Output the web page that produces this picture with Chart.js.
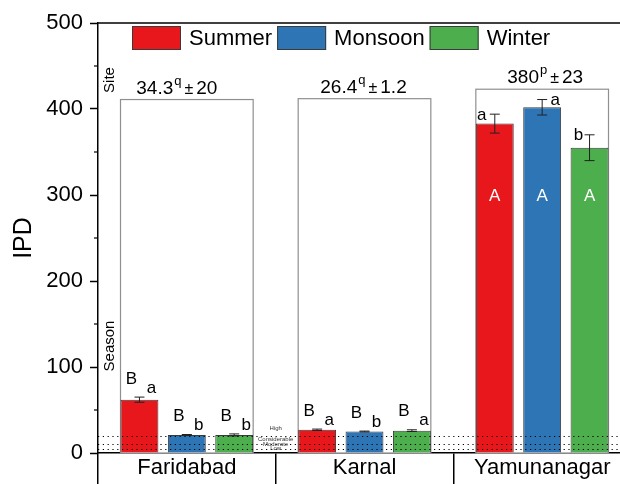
<!DOCTYPE html>
<html>
<head>
<meta charset="utf-8">
<title>IPD by site and season</title>
<script src="https://cdn.jsdelivr.net/npm/chart.js@4.4.1/dist/chart.umd.min.js"></script>
<style>
  html, body { margin: 0; padding: 0; overflow: hidden; background: #fff; }
  #wrap { width: 640px; height: 484px; }
</style>
</head>
<body>
<div id="wrap"><canvas id="ipdChart" width="640" height="484"></canvas></div>
<script>
const sites = ["Faridabad", "Karnal", "Yamunanagar"];
const seasons = ["Summer", "Monsoon", "Winter"];

const summer = [62, 27, 383];
const monsoon = [21, 25, 402];
const winter = [21, 26, 355];

const summerErr = [3, 0.8, 11];
const monsoonErr = [0.5, 0.5, 9];
const winterErr = [1.2, 1, 15];

// letters: upper = between sites, lower = between seasons
const summerUpper = ["B", "B", "A"];
const monsoonUpper = ["B", "B", "A"];
const winterUpper = ["B", "B", "A"];
const summerLower = ["a", "a", "a"];
const monsoonLower = ["b", "b", "a"];
const winterLower = ["b", "a", "b"];

// site summary boxes
const siteBoxTop = [411, 412, 423];
const siteMean = ["34.3", "26.4", "380"];
const siteGroup = ["q", "q", "p"];
const siteSd = ["20", "1.2", "23"];

const thresholds = [5, 10, 20];
const thresholdLabels = ["Low", "Moderate", "Considerable", "High"];

const yTicks = [0, 100, 200, 300, 400, 500];

const FONT = "'Liberation Sans', Arial, Helvetica, sans-serif";
const colors = ["#e8171c", "#2e75b6", "#4cae4c"];

const seriesValues = [summer, monsoon, winter];
const seriesErr = [summerErr, monsoonErr, winterErr];
const seriesUpper = [summerUpper, monsoonUpper, winterUpper];
const seriesLower = [summerLower, monsoonLower, winterLower];

function drawMean(ctx, cx, baseY, mean, sup, sd) {
  ctx.textAlign = "left";
  ctx.textBaseline = "alphabetic";
  ctx.font = `19px ${FONT}`;
  const w1 = ctx.measureText(mean).width;
  const w4 = ctx.measureText(sd).width;
  ctx.font = `13px ${FONT}`;
  const w2 = ctx.measureText(sup).width;
  ctx.font = `16px ${FONT}`;
  const w3 = ctx.measureText("\u00b1").width;
  let x = cx - (w1 + 1 + w2 + 3 + w3 + 3 + w4) / 2;
  ctx.font = `19px ${FONT}`;
  ctx.fillText(mean, x, baseY);
  x += w1 + 1;
  ctx.font = `13px ${FONT}`;
  ctx.fillText(sup, x, baseY - 9);
  x += w2 + 3;
  ctx.font = `16px ${FONT}`;
  ctx.fillText("\u00b1", x, baseY);
  x += w3 + 3;
  ctx.font = `19px ${FONT}`;
  ctx.fillText(sd, x, baseY);
}

const extras = {
  id: "extras",
  beforeDatasetsDraw(chart) {
    const { ctx, scales: { y } } = chart;
    const first = chart.getDatasetMeta(0).data;
    const last = chart.getDatasetMeta(2).data;
    ctx.save();
    sites.forEach((s, i) => {
      const l = first[i].x - first[i].width / 2;
      const r = last[i].x + last[i].width / 2;
      const t = y.getPixelForValue(siteBoxTop[i]);
      const b = y.getPixelForValue(0);
      ctx.fillStyle = "#fff";
      ctx.fillRect(l, t, r - l, b - t);
      ctx.strokeStyle = "#8f8f8f";
      ctx.lineWidth = 1.2;
      ctx.strokeRect(l, t, r - l, b - t);
    });
    ctx.restore();
  },
  afterDatasetsDraw(chart) {
    const { ctx, chartArea, scales: { y } } = chart;
    const first = chart.getDatasetMeta(0).data;
    const last = chart.getDatasetMeta(2).data;
    ctx.save();

    // error bars
    ctx.strokeStyle = "#222";
    ctx.lineWidth = 1;
    seriesValues.forEach((vals, k) => {
      const meta = chart.getDatasetMeta(k);
      vals.forEach((v, i) => {
        const e = seriesErr[k][i];
        const x = meta.data[i].x;
        const y1 = y.getPixelForValue(v + e);
        const y2 = y.getPixelForValue(v - e);
        ctx.beginPath();
        ctx.moveTo(x, y1); ctx.lineTo(x, y2);
        ctx.moveTo(x - 5, y1); ctx.lineTo(x + 5, y1);
        ctx.moveTo(x - 5, y2); ctx.lineTo(x + 5, y2);
        ctx.stroke();
      });
    });

    // risk threshold lines
    ctx.setLineDash([1.2, 3.6]);
    ctx.strokeStyle = "#000";
    ctx.lineWidth = 1.2;
    thresholds.forEach((t) => {
      const py = Math.round(y.getPixelForValue(t)) + 0.5;
      ctx.beginPath();
      ctx.moveTo(chartArea.left, py);
      ctx.lineTo(chartArea.right, py);
      ctx.stroke();
    });
    ctx.setLineDash([]);

    // threshold labels between first two sites
    const gapX = (last[0].x + last[0].width / 2 + first[1].x - first[1].width / 2) / 2;
    ctx.fillStyle = "#333";
    ctx.font = `6px ${FONT}`;
    ctx.textAlign = "center";
    ctx.textBaseline = "middle";
    const labelY = [
      y.getPixelForValue(thresholds[0]) - 0.5,
      y.getPixelForValue(thresholds[1]),
      y.getPixelForValue(thresholds[2]) + 3.5,
      y.getPixelForValue(thresholds[2]) - 7,
    ];
    thresholdLabels.forEach((txt, i) => ctx.fillText(txt, gapX, labelY[i]));

    // significance letters
    const lowerSide = [-13, 13, -11];
    ctx.font = `17px ${FONT}`;
    seriesValues.forEach((vals, k) => {
      const meta = chart.getDatasetMeta(k);
      vals.forEach((v, i) => {
        const x = meta.data[i].x;
        const topPx = y.getPixelForValue(v + seriesErr[k][i]);
        if (v > 200) {
          ctx.fillStyle = "#fff";
          ctx.fillText(seriesUpper[k][i], x, y.getPixelForValue(299));
          ctx.fillStyle = "#000";
          ctx.fillText(seriesLower[k][i], x + lowerSide[k], topPx + 1);
        } else {
          ctx.fillStyle = "#000";
          ctx.fillText(seriesUpper[k][i], x - 8, topPx - 18);
          ctx.fillText(seriesLower[k][i], x + 12, topPx - 9);
        }
      });
    });

    // site means above boxes
    const meanShift = [-10, -1, 3];
    ctx.fillStyle = "#000";
    sites.forEach((s, i) => {
      const cx = (first[i].x - first[i].width / 2 + last[i].x + last[i].width / 2) / 2;
      drawMean(ctx, cx + meanShift[i], y.getPixelForValue(siteBoxTop[i]) - 6,
        siteMean[i], siteGroup[i], siteSd[i]);
    });

    // "Site" and "Season" side labels
    ctx.font = `15px ${FONT}`;
    ctx.textAlign = "center";
    ctx.textBaseline = "middle";
    [["Site", 80], ["Season", 346]].forEach(([txt, py]) => {
      ctx.save();
      ctx.translate(chartArea.left + 12, py);
      ctx.rotate(-Math.PI / 2);
      ctx.fillText(txt, 0, 0);
      ctx.restore();
    });

    ctx.restore();
  },
  afterDraw(chart) {
    const { ctx, chartArea, scales: { y } } = chart;
    ctx.save();

    // top frame line
    ctx.strokeStyle = "#000";
    ctx.lineWidth = 1.5;
    ctx.beginPath();
    ctx.moveTo(chartArea.left - 0.75, chartArea.top);
    ctx.lineTo(chartArea.right, chartArea.top);
    ctx.stroke();

    // minor y ticks
    ctx.lineWidth = 1.2;
    for (let v = 50; v < 500; v += 100) {
      const py = y.getPixelForValue(v);
      ctx.beginPath();
      ctx.moveTo(chartArea.left - 4, py);
      ctx.lineTo(chartArea.left, py);
      ctx.stroke();
    }

    // legend inside the plot
    let x = 132;
    ctx.font = `22px ${FONT}`;
    ctx.textAlign = "left";
    ctx.textBaseline = "middle";
    chart.data.datasets.forEach((ds) => {
      ctx.fillStyle = ds.backgroundColor;
      ctx.fillRect(x, 26, 49, 24);
      ctx.strokeStyle = "#3a3a3a";
      ctx.lineWidth = 1;
      ctx.strokeRect(x + 0.5, 26.5, 48, 23);
      ctx.fillStyle = "#000";
      ctx.fillText(ds.label, x + 57, 39);
      x += 57 + ctx.measureText(ds.label).width + 5;
    });
    ctx.restore();
  },
};

const ctx = document.getElementById("ipdChart").getContext("2d");
new Chart(ctx, {
  type: "bar",
  data: {
    labels: sites,
    datasets: seasons.map((name, k) => ({
      label: name,
      data: seriesValues[k],
      backgroundColor: colors[k],
      borderColor: "#3a3a3a",
      borderWidth: 1,
      borderSkipped: "bottom",
      barPercentage: 0.8,
      categoryPercentage: 0.8,
    })),
  },
  options: {
    responsive: false,
    animation: false,
    devicePixelRatio: 1,
    layout: { padding: { top: 23, right: 9, left: 0, bottom: 0 } },
    plugins: {
      legend: { display: false },
      tooltip: { enabled: false },
    },
    scales: {
      x: {
        ticks: { color: "#000", font: { size: 22, family: FONT }, padding: -29 },
        grid: { drawOnChartArea: false, tickLength: 31, color: "#000", lineWidth: 1.5, offset: true },
        border: { color: "#000", width: 1.5 },
        afterFit: (s) => { s.height = 31; },
      },
      y: {
        min: 0,
        max: 500,
        ticks: {
          stepSize: 50,
          autoSkip: false,
          color: "#000",
          font: { size: 22, family: FONT },
          padding: 7,
          callback: (v) => (yTicks.includes(v) ? v : ""),
        },
        grid: {
          drawOnChartArea: false,
          tickLength: 8,
          tickWidth: 1.5,
          tickColor: (c) => (c.tick && yTicks.includes(c.tick.value) ? "#000" : "rgba(0,0,0,0)"),
        },
        border: { color: "#000", width: 1.5 },
        title: {
          display: true,
          text: "IPD",
          color: "#000",
          font: { size: 25, family: FONT },
          padding: { top: 9, bottom: 0 },
        },
        afterFit: (s) => { s.width = 98; },
      },
    },
  },
  plugins: [extras],
});
</script>
</body>
</html>
